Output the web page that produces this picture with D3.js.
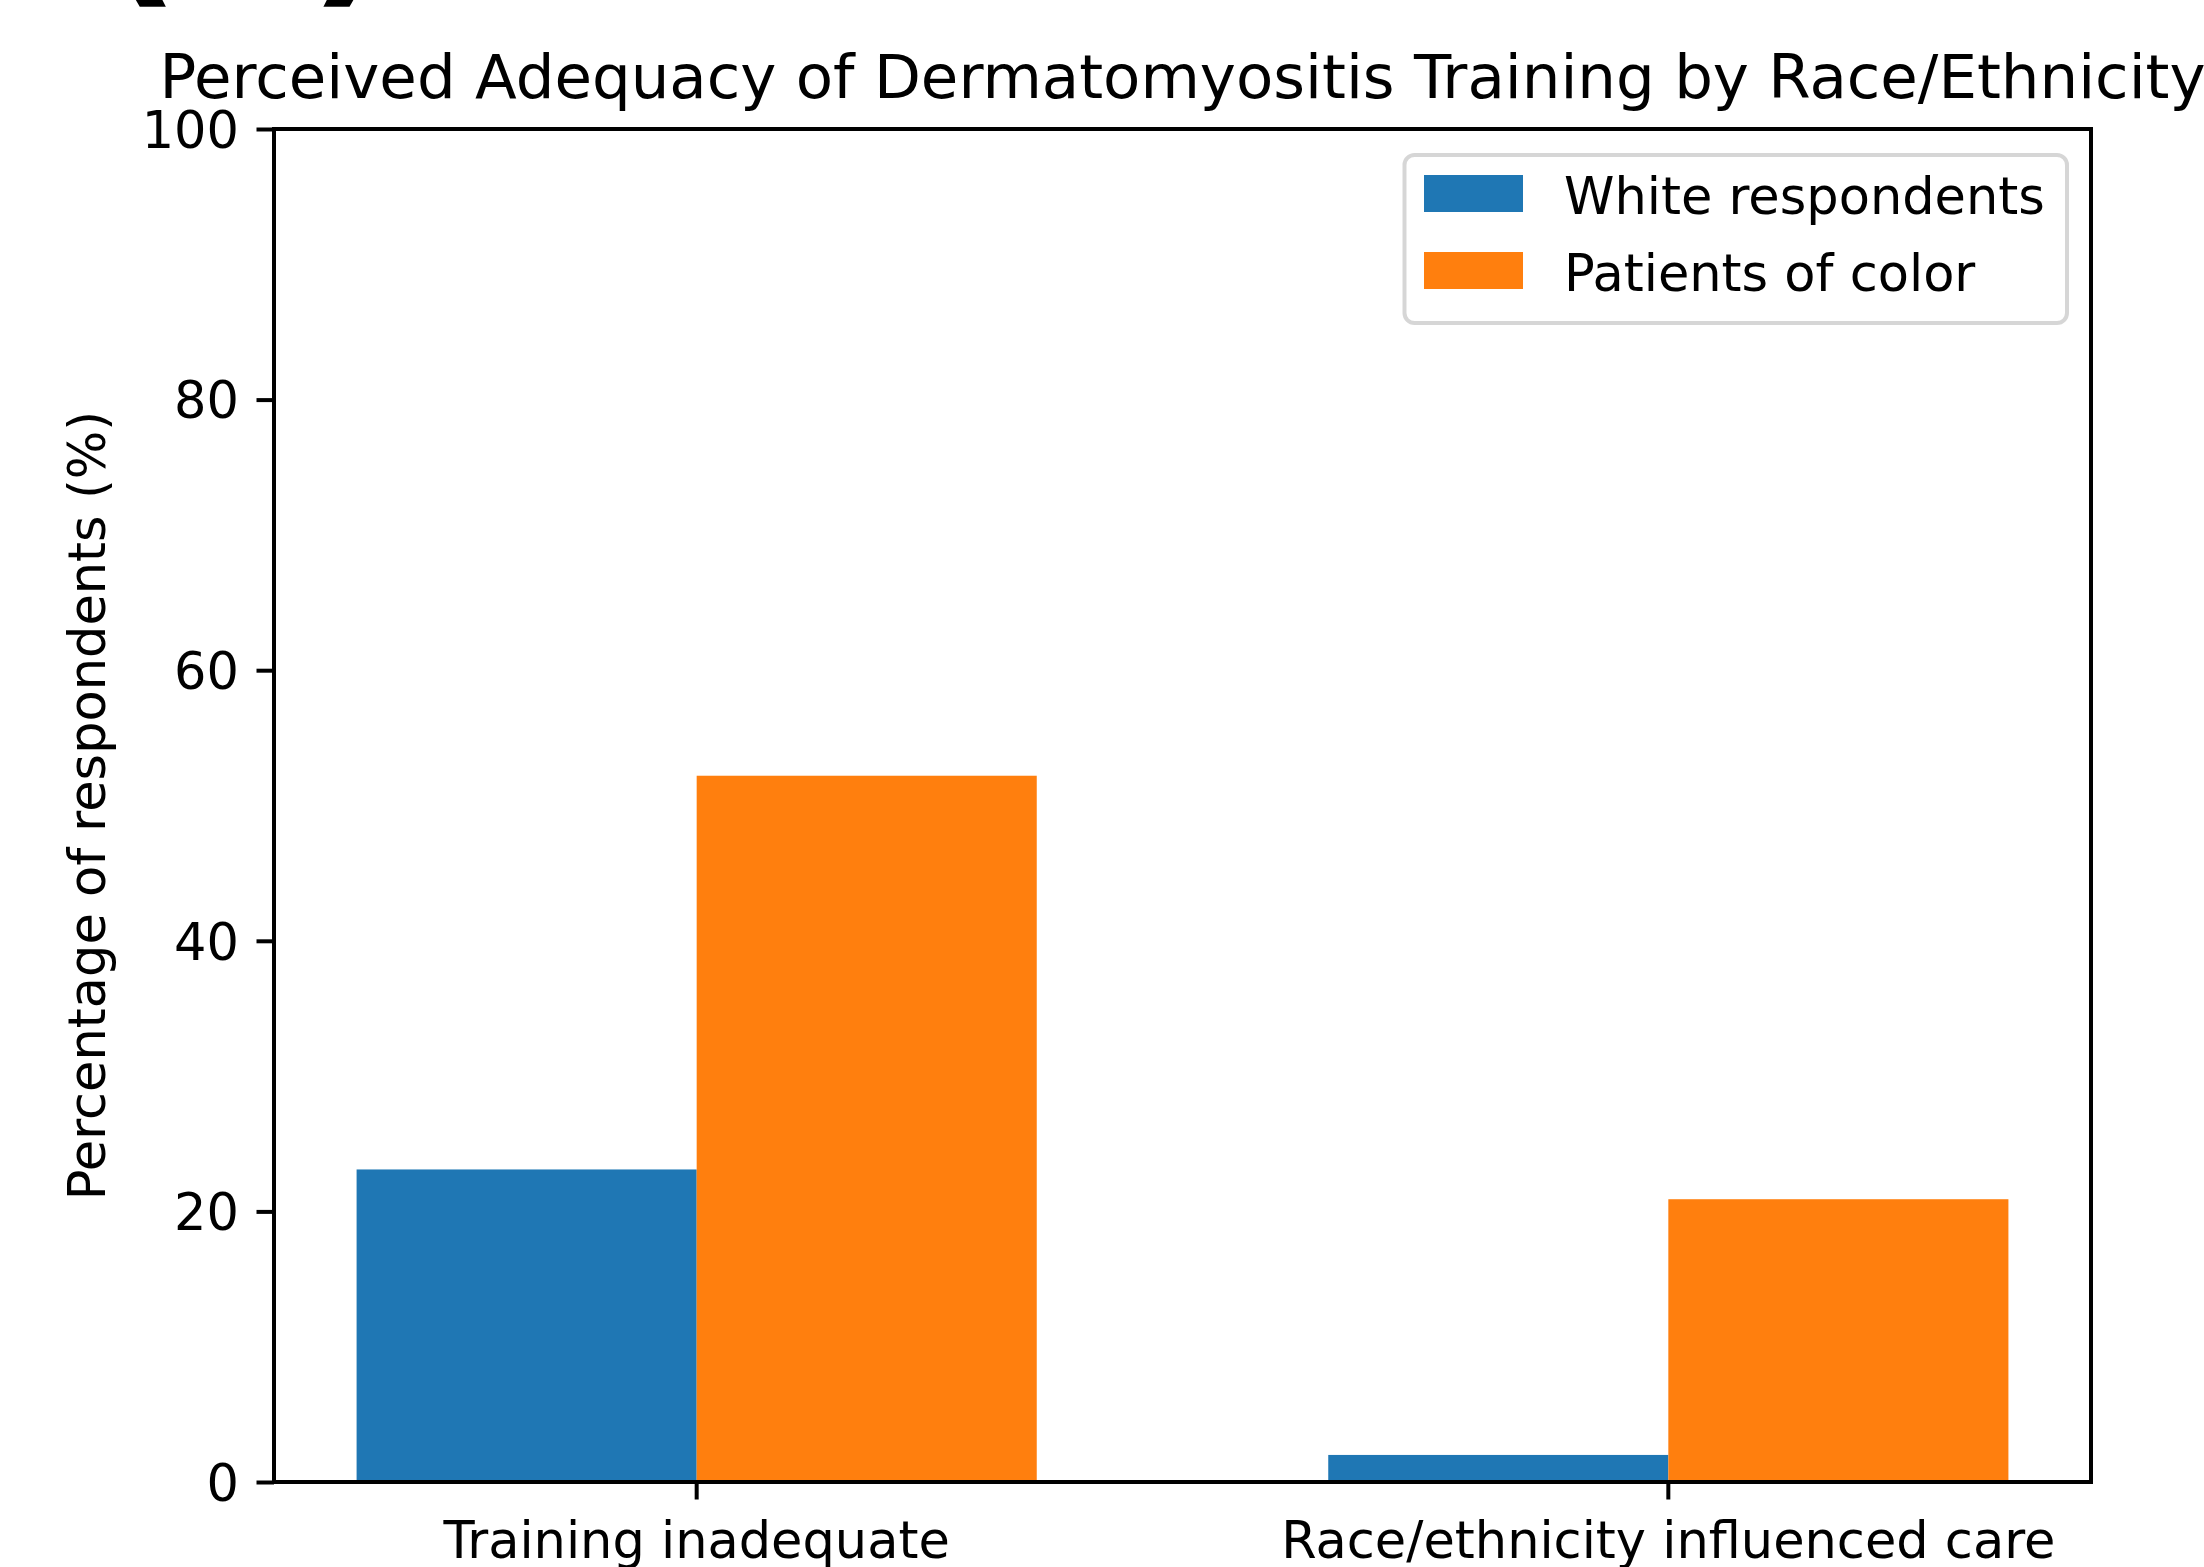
<!DOCTYPE html>
<html>
<head>
<meta charset="utf-8">
<script src="https://cdn.jsdelivr.net/npm/d3@7"></script>
<style>
body { margin: 0; background: #fff; }
svg { display: block; font-family: "DejaVu Sans", sans-serif; }
</style>
</head>
<body>
<svg id="chart" width="2204" height="1567"></svg>
<script>
// values
var categories = ["Training inadequate", "Race/ethnicity influenced care"];
var seriesNames = ["White respondents", "Patients of color"];
var whiteValues = [23.1, 2.0];
var colorValues = [52.2, 20.9];
var seriesColors = ["#1f77b4", "#ff7f0e"];
var yTicks = [0, 20, 40, 60, 80, 100];
var titleText = "Perceived Adequacy of Dermatomyositis Training by Race/Ethnicity";
var yLabelText = "Percentage of respondents (%)";
var panelLabel = "(b)";

var svg = d3.select("#chart"),
    width = +svg.attr("width"),
    height = +svg.attr("height");

// plot box (window.top is reserved, so use a margin object)
var m = {left: 274, right: 2091, top: 129, bottom: 1482};
var fontSize = 51;

// rows for the bars
var rows = [];
for (var i = 0; i < categories.length; i++) {
    rows.push({cat: categories[i], values: [whiteValues[i], colorValues[i]]});
}

var x0 = d3.scaleBand()
    .domain(categories)
    .range([m.left, m.right])
    .paddingInner(0.3)
    .paddingOuter(0.085);

var x1 = d3.scaleBand()
    .domain(seriesNames)
    .range([0, x0.bandwidth()]);

var y = d3.scaleLinear()
    .domain([0, 100])
    .range([m.bottom, m.top]);

var color = d3.scaleOrdinal().domain(seriesNames).range(seriesColors);

// cut off panel label at the very top
svg.append("text")
    .attr("x", 98)
    .attr("y", -17)
    .attr("font-size", 180)
    .attr("font-weight", "bold")
    .attr("fill", "#000")
    .text(panelLabel);

// bars
var groups = svg.selectAll(".grp")
    .data(rows)
    .enter()
    .append("g")
    .attr("class", "grp")
    .attr("transform", function (d) {return "translate(" + x0(d.cat) + ",0)";});

groups.selectAll("rect")
    .data(function (d) {
        return seriesNames.map(function (s, k) {return {name: s, value: d.values[k]};});
    })
    .enter()
    .append("rect")
    .attr("x", function (d) {return x1(d.name);})
    .attr("y", function (d) {return y(d.value);})
    .attr("width", x1.bandwidth())
    .attr("height", function (d) {return y(0) - y(d.value);})
    .attr("fill", function (d) {return color(d.name);});

// axes
var xAxis = svg.append("g")
    .attr("transform", "translate(0," + m.bottom + ")")
    .call(d3.axisBottom(x0).tickSize(17.5).tickPadding(17.5).tickSizeOuter(0));
xAxis.select(".domain").remove();
xAxis.selectAll("line").attr("stroke", "#000").attr("stroke-width", 4);
xAxis.selectAll("text")
    .attr("font-family", "DejaVu Sans")
    .attr("font-size", fontSize)
    .attr("fill", "#000")
    .attr("y", 76)
    .attr("dy", null);

var yAxis = svg.append("g")
    .attr("transform", "translate(" + m.left + ",0)")
    .call(d3.axisLeft(y).tickValues(yTicks).tickSize(17.5).tickPadding(17.5).tickSizeOuter(0));
yAxis.select(".domain").remove();
yAxis.selectAll("line").attr("stroke", "#000").attr("stroke-width", 4);
yAxis.selectAll("text")
    .attr("font-family", "DejaVu Sans")
    .attr("font-size", fontSize)
    .attr("fill", "#000")
    .attr("dy", "0.36em");

// spines
svg.append("rect")
    .attr("x", m.left)
    .attr("y", m.top)
    .attr("width", m.right - m.left)
    .attr("height", m.bottom - m.top)
    .attr("fill", "none")
    .attr("stroke", "#000")
    .attr("stroke-width", 4);

// title
svg.append("text")
    .attr("x", (m.left + m.right) / 2)
    .attr("y", 98)
    .attr("text-anchor", "middle")
    .attr("font-size", 61)
    .attr("fill", "#000")
    .text(titleText);

// y label
svg.append("text")
    .attr("transform", "translate(105," + (m.top + m.bottom) / 2 + ") rotate(-90)")
    .attr("text-anchor", "middle")
    .attr("font-size", fontSize)
    .attr("fill", "#000")
    .text(yLabelText);

// legend
var legend = svg.append("g");
legend.append("rect")
    .attr("x", 1404.5)
    .attr("y", 155)
    .attr("width", 662.5)
    .attr("height", 168)
    .attr("rx", 10)
    .attr("fill", "#fff")
    .attr("fill-opacity", 0.8)
    .attr("stroke", "#cccccc")
    .attr("stroke-opacity", 0.8)
    .attr("stroke-width", 4);

var items = legend.selectAll(".item")
    .data(seriesNames)
    .enter()
    .append("g")
    .attr("class", "item")
    .attr("transform", function (d, i) {return "translate(1424," + (193.5 + i * 77) + ")";});
items.append("rect")
    .attr("x", 0)
    .attr("y", -18.5)
    .attr("width", 99)
    .attr("height", 37)
    .attr("fill", function (d) {return color(d);});
items.append("text")
    .attr("x", 140)
    .attr("y", 20)
    .attr("font-size", fontSize)
    .attr("fill", "#000")
    .text(function (d) {return d;});
</script>
</body>
</html>
